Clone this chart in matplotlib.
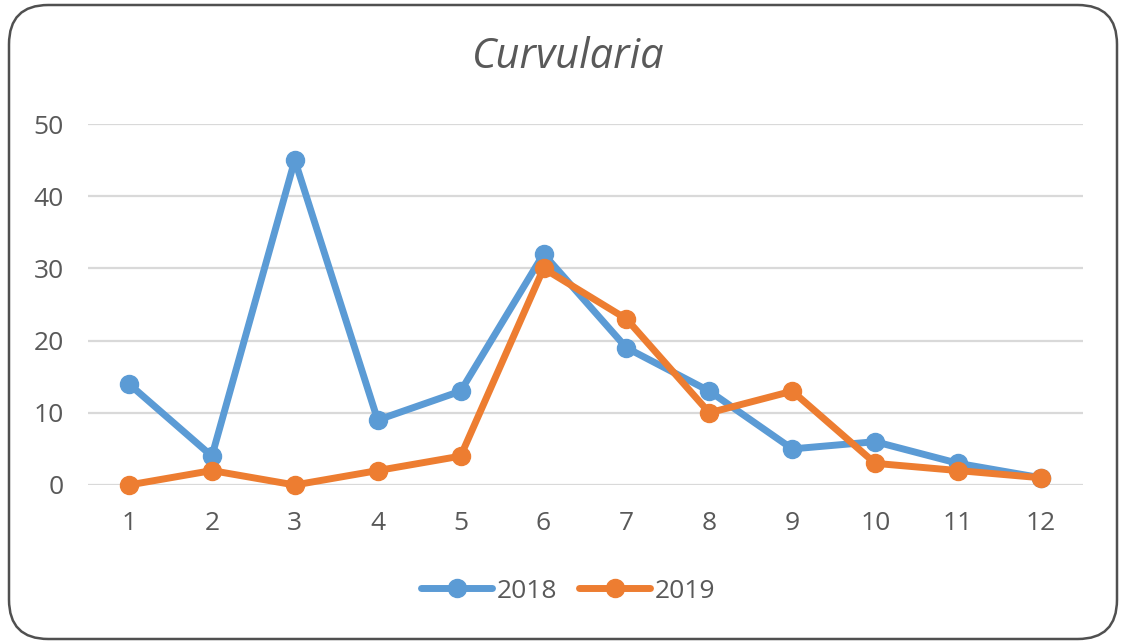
import matplotlib
matplotlib.use("Agg")
import matplotlib.pyplot as plt
from matplotlib.patches import FancyBboxPatch

months = [1, 2, 3, 4, 5, 6, 7, 8, 9, 10, 11, 12]
s2018 = [14, 4, 45, 9, 13, 32, 19, 13, 5, 6, 3, 1]
s2019 = [0, 2, 0, 2, 4, 30, 23, 10, 13, 3, 2, 1]
yticks = [0, 10, 20, 30, 40, 50]
title = "Curvularia"

plt.rcParams['font.family'] = ['Open Sans', 'DejaVu Sans']

W, H = 1123, 643
fig = plt.figure(figsize=(W / 100, H / 100), dpi=100)
fig.patch.set_facecolor('white')

border = FancyBboxPatch((9 / W, 4 / H), (1117 - 9) / W, (638 - 4) / H,
                        boxstyle="round,pad=0,rounding_size=0.035",
                        transform=fig.transFigure, facecolor='none',
                        edgecolor='#505050', linewidth=1.8, mutation_aspect=W / H,
                        zorder=-1)
fig.patches.append(border)

ax = fig.add_axes([87.5 / W, 158 / H, (1082.5 - 87.5) / W, (485 - 124) / H])
ax.set_facecolor('none')
ax.set_xlim(0.5, 12.5)
ax.set_ylim(0, 50)
ax.set_yticks(yticks)
ax.set_xticks(months)
ax.set_xticklabels([str(m) for m in months])
ax.grid(axis='y', color='#D9D9D9', linewidth=1.6)
ax.set_axisbelow(True)
for sp in ax.spines.values():
    sp.set_visible(False)
ax.tick_params(length=0, labelsize=19, labelcolor='#595959')
ax.tick_params(axis='y', pad=17)
ax.tick_params(axis='x', pad=19)

ax.plot(months, s2018, color='#5B9BD5', linewidth=5, marker='o', markersize=13,
        label='2018', clip_on=False, zorder=3, solid_capstyle='round',
        solid_joinstyle='round')
ax.plot(months, s2019, color='#ED7D31', linewidth=5, marker='o', markersize=13,
        label='2019', clip_on=False, zorder=4, solid_capstyle='round',
        solid_joinstyle='round')

fig.text(568 / W, 1 - 57 / H, title, ha='center', va='center', fontsize=30,
         style='italic', color='#595959')

leg = fig.legend(loc='center', bbox_to_anchor=(568 / W, 1 - 591 / H), ncol=2,
                 frameon=False, fontsize=19, handlelength=2.7, handletextpad=0.15,
                 columnspacing=0.85, labelcolor='#595959')

fig.savefig('out.png', dpi=100, facecolor='white')
